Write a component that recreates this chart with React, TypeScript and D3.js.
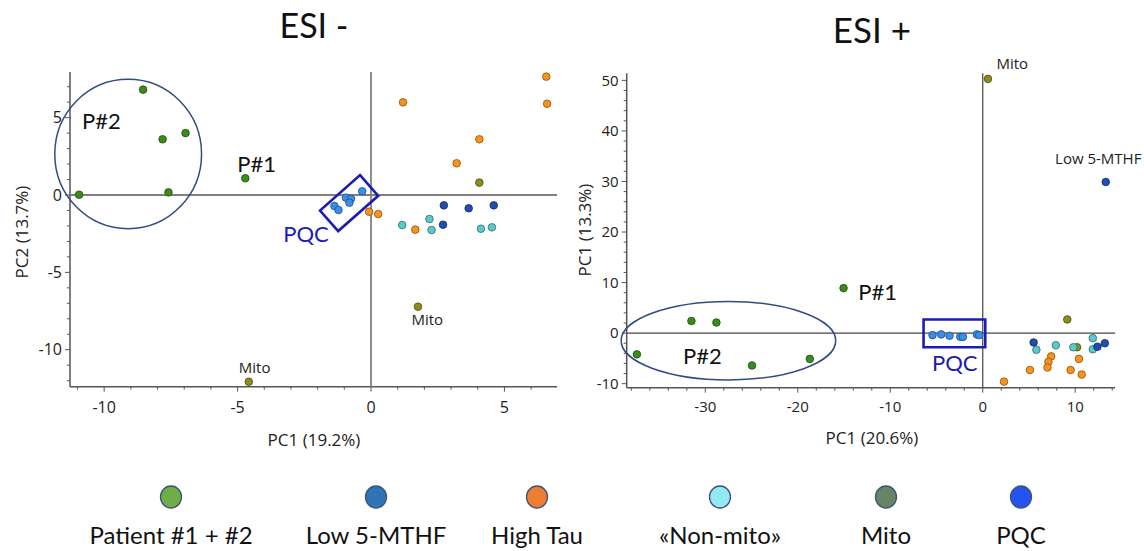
import React from "react";
import * as d3 from "d3";

const width = 1144;
const height = 551;

type Pt = [number, number];

// ESI - scores (PC1, PC2)
const negPatient: Pt[] = [[-8.54, 6.81], [-7.81, 3.6], [-6.95, 4.0], [-7.59, 0.17], [-10.94, 0.02], [-4.71, 1.08]];
const negLowMthf: Pt[] = [[2.73, -0.67], [3.66, -0.86], [4.6, -0.67], [2.7, -1.92]];
const negHighTau: Pt[] = [[6.57, 7.65], [6.6, 5.9], [1.2, 5.99], [4.06, 3.6], [3.21, 2.05], [-0.07, -1.08], [0.27, -1.23], [1.66, -2.24]];
const negNonMito: Pt[] = [[1.17, -1.94], [2.19, -1.55], [2.27, -2.26], [4.12, -2.18], [4.53, -2.09]];
const negMito: Pt[] = [[4.06, 0.8], [1.76, -7.22], [-4.58, -12.07]];
const negPqc: Pt[] = [[-0.33, 0.24], [-0.94, -0.17], [-0.75, -0.24], [-0.81, -0.5], [-1.37, -0.71], [-1.22, -0.97]];

// ESI + scores
const posPatient: Pt[] = [[-15.05, 8.9], [-31.5, 2.4], [-28.8, 2.1], [-37.4, -4.2], [-24.95, -6.4], [-18.7, -5.1]];
const posLowMthf: Pt[] = [[5.5, -1.85], [12.4, -2.7], [13.2, -2.0], [13.3, 29.9]];
const posHighTau: Pt[] = [[7.4, -4.6], [7.1, -5.7], [7.0, -6.8], [5.1, -7.3], [10.4, -5.1], [9.5, -7.3], [10.7, -8.2], [2.3, -9.6]];
const posNonMito: Pt[] = [[5.8, -3.3], [7.9, -2.4], [9.8, -2.8], [11.9, -1.0], [11.9, -3.2]];
const posMito: Pt[] = [[0.56, 50.3], [9.14, 2.7], [10.2, -2.8]];
const posPqc: Pt[] = [[-5.43, -0.4], [-4.49, -0.26], [-3.59, -0.53], [-2.43, -0.73], [-2.14, -0.75], [-0.63, -0.26], [-0.38, -0.4]];

// legend
const legendLabels = ["Patient #1 + #2", "Low 5-MTHF", "High Tau", "«Non-mito»", "Mito", "PQC"];
const legendColors = ["#70ad47", "#2e75b6", "#ed7d31", "#93e8f6", "#668565", "#2453f0"];
const legendX = [171, 376, 537, 720, 886, 1021];

const pointStyle = {
  patient: { fill: "#3a8c1c", stroke: "#1f4a10" },
  low: { fill: "#1f4fb0", stroke: "#102a60" },
  tau: { fill: "#f7941d", stroke: "#8a5208" },
  non: { fill: "#5cc9c9", stroke: "#2c6b6b" },
  mito: { fill: "#8e8c1c", stroke: "#4a490c" },
  pqc: { fill: "#3a8ee8", stroke: "#1a4f90" },
};

const tickFont = "'Open Sans', sans-serif";
const labelFont = "Lato, sans-serif";

function Panel({ cfg }: { cfg: any }) {
  const x = d3.scaleLinear().domain(cfg.xDomain).range(cfg.xRange);
  const y = d3.scaleLinear().domain(cfg.yDomain).range(cfg.yRange);
  const [x0, x1] = cfg.xRange;
  const [yb, yt] = cfg.yRange;
  const line = cfg.lineColor;

  return (
    <g>
      <text x={cfg.title.x} y={cfg.title.y} textAnchor="middle" fontFamily={labelFont} fontSize={cfg.title.size} fill="#111">
        {cfg.title.text}
      </text>

      {/* axes + zero lines */}
      <line x1={x0} x2={x0} y1={yt} y2={yb} stroke={line} strokeWidth={1.5} />
      <line x1={x0} x2={x1} y1={yb} y2={yb} stroke={line} strokeWidth={1.5} />
      <line x1={x0} x2={x1} y1={y(0)} y2={y(0)} stroke={cfg.zeroColor} strokeWidth={cfg.zeroWidth} />
      <line x1={x(0)} x2={x(0)} y1={yt} y2={yb} stroke={cfg.zeroColor} strokeWidth={cfg.zeroWidth} />

      {cfg.yMinor.map((v: number) => (
        <line key={"ym" + v} x1={x0 - (cfg.yMajor.includes(v) ? 5 : 3)} x2={x0} y1={y(v)} y2={y(v)} stroke={line} strokeWidth={1} />
      ))}
      {cfg.xMinor.map((v: number) => (
        <line key={"xm" + v} x1={x(v)} x2={x(v)} y1={yb} y2={yb + (cfg.xMajor.includes(v) ? 5 : 3)} stroke={line} strokeWidth={1} />
      ))}
      {cfg.yMajor.map((v: number) => (
        <text key={"yl" + v} x={x0 - 8} y={y(v)} dy="0.35em" textAnchor="end" fontFamily={tickFont} fontSize={cfg.tickSize} fill="#222">
          {v}
        </text>
      ))}
      {cfg.xMajor.map((v: number) => (
        <text key={"xl" + v} x={x(v)} y={yb + cfg.xLabelOffset} textAnchor="middle" fontFamily={tickFont} fontSize={cfg.tickSize} fill="#222">
          {v}
        </text>
      ))}

      <text x={cfg.xTitle.x} y={cfg.xTitle.y} textAnchor="middle" fontFamily={tickFont} fontSize={17} fill="#222">
        {cfg.xTitle.text}
      </text>
      <text
        transform={`translate(${cfg.yTitle.x},${cfg.yTitle.y}) rotate(-90)`}
        textAnchor="middle"
        dy="0.35em"
        fontFamily={tickFont}
        fontSize={17}
        fill="#222"
      >
        {cfg.yTitle.text}
      </text>

      {/* groupings */}
      <ellipse
        cx={x(cfg.ellipse.cx)}
        cy={y(cfg.ellipse.cy)}
        rx={x(cfg.ellipse.cx + cfg.ellipse.rx) - x(cfg.ellipse.cx)}
        ry={y(cfg.ellipse.cy) - y(cfg.ellipse.cy + cfg.ellipse.ry)}
        fill="none"
        stroke="#2f4d80"
        strokeWidth={1.5}
      />

      {cfg.series.map((s: any, i: number) =>
        s.pts.map((p: Pt, j: number) => (
          <circle key={i + "-" + j} cx={x(p[0])} cy={y(p[1])} r={cfg.r} fill={s.style.fill} stroke={s.style.stroke} strokeWidth={0.8} />
        ))
      )}

      <polygon
        points={cfg.pqcBox.map((p: Pt) => `${x(p[0])},${y(p[1])}`).join(" ")}
        fill="none"
        stroke="#1c1cb4"
        strokeWidth={2.6}
      />

      {cfg.notes.map((n: any, i: number) => (
        <text
          key={"n" + i}
          x={x(n.x)}
          y={y(n.y)}
          textAnchor={n.anchor}
          fontFamily={n.font}
          fontSize={n.size}
          fill={n.color}
        >
          {n.text}
        </text>
      ))}
    </g>
  );
}

const negCfg = {
  xDomain: [-11.28, 6.97],
  xRange: [70, 557],
  yDomain: [-12.39, 7.95],
  yRange: [386.7, 72],
  xMinor: d3.range(-11, 7),
  xMajor: [-10, -5, 0, 5],
  yMinor: d3.range(-12, 8),
  yMajor: [-10, -5, 0, 5],
  tickSize: 16,
  xLabelOffset: 26,
  lineColor: "#555",
  zeroColor: "#808080",
  zeroWidth: 1.8,
  r: 3.8,
  title: { text: "ESI -", x: 314, y: 38, size: 34 },
  xTitle: { text: "PC1 (19.2%)", x: 314, y: 446 },
  yTitle: { text: "PC2 (13.7%)", x: 22, y: 232 },
  ellipse: { cx: -9.1, cy: 2.65, rx: 2.75, ry: 4.83 },
  pqcBox: [[-0.41, 1.29], [0.27, -0.05], [-1.23, -2.33], [-1.91, -1.01]],
  series: [
    { pts: negMito, style: pointStyle.mito },
    { pts: negHighTau, style: pointStyle.tau },
    { pts: negNonMito, style: pointStyle.non },
    { pts: negLowMthf, style: pointStyle.low },
    { pts: negPqc, style: pointStyle.pqc },
    { pts: negPatient, style: pointStyle.patient },
  ],
  notes: [
    { text: "P#2", x: -10.83, y: 4.27, anchor: "start", font: labelFont, size: 22, color: "#111" },
    { text: "P#1", x: -5.01, y: 1.5, anchor: "start", font: labelFont, size: 22, color: "#111" },
    { text: "PQC", x: -3.29, y: -3.02, anchor: "start", font: labelFont, size: 22, color: "#1c1cb4" },
    { text: "Mito", x: -4.36, y: -11.53, anchor: "middle", font: tickFont, size: 15, color: "#222" },
    { text: "Mito", x: 2.11, y: -8.4, anchor: "middle", font: tickFont, size: 15, color: "#222" },
  ],
};

const posCfg = {
  xDomain: [-38.5, 14.3],
  xRange: [626.7, 1115],
  yDomain: [-10.8, 51.4],
  yRange: [387.7, 73.3],
  xMinor: d3.range(-38, 15, 2),
  xMajor: [-30, -20, -10, 0, 10],
  yMinor: d3.range(-10, 52, 2),
  yMajor: [-10, 0, 10, 20, 30, 40, 50],
  tickSize: 15,
  xLabelOffset: 24,
  lineColor: "#555",
  zeroColor: "#444",
  zeroWidth: 1.2,
  r: 3.8,
  title: { text: "ESI +", x: 872, y: 43, size: 35 },
  xTitle: { text: "PC1 (20.6%)", x: 872, y: 444 },
  yTitle: { text: "PC1 (13.3%)", x: 585, y: 230 },
  ellipse: { cx: -27.5, cy: -1.5, rx: 11.6, ry: 7.76 },
  pqcBox: [[-6.4, 2.7], [0.27, 2.7], [0.27, -2.8], [-6.4, -2.8]],
  series: [
    { pts: posMito, style: pointStyle.mito },
    { pts: posHighTau, style: pointStyle.tau },
    { pts: posNonMito, style: pointStyle.non },
    { pts: posLowMthf, style: pointStyle.low },
    { pts: posPqc, style: pointStyle.pqc },
    { pts: posPatient, style: pointStyle.patient },
  ],
  notes: [
    { text: "P#2", x: -32.4, y: -6.2, anchor: "start", font: labelFont, size: 22, color: "#111" },
    { text: "P#1", x: -13.46, y: 6.5, anchor: "start", font: labelFont, size: 22, color: "#111" },
    { text: "PQC", x: -5.49, y: -7.45, anchor: "start", font: labelFont, size: 22, color: "#1c1cb4" },
    { text: "Mito", x: 3.19, y: 52.2, anchor: "middle", font: tickFont, size: 15, color: "#222" },
    { text: "Low 5-MTHF", x: 12.49, y: 33.4, anchor: "middle", font: tickFont, size: 15, color: "#222" },
  ],
};

export default function App() {
  return (
    <svg width={width} height={height} style={{ position: "absolute", left: 0, top: 0, background: "#fff" }}>
      <Panel cfg={negCfg} />
      <Panel cfg={posCfg} />
      {legendLabels.map((label, i) => (
        <g key={label}>
          <ellipse cx={legendX[i]} cy={497} rx={10.5} ry={11} fill={legendColors[i]} stroke="#3d5478" strokeWidth={1.3} />
          <text x={legendX[i]} y={544} textAnchor="middle" fontFamily={labelFont} fontSize={24} fill="#111">
            {label}
          </text>
        </g>
      ))}
    </svg>
  );
}
